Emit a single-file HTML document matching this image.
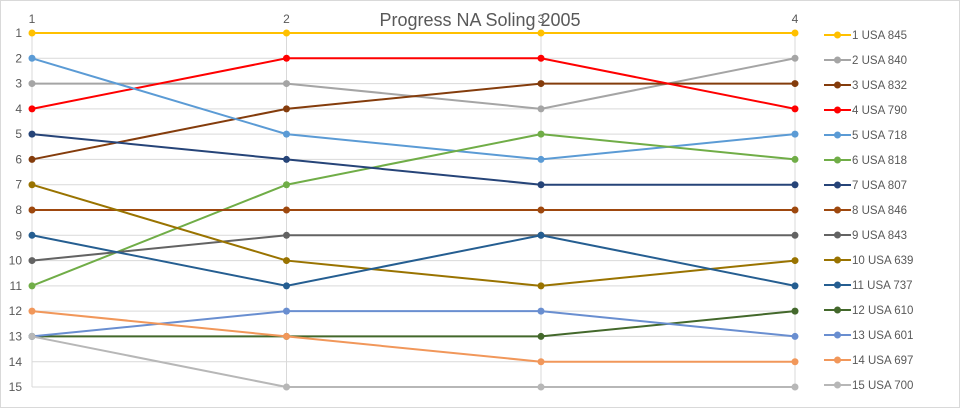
<!DOCTYPE html>
<html><head><meta charset="utf-8"><style>
html,body{margin:0;padding:0;background:#fff}
svg{display:block;font-family:"Liberation Sans",sans-serif}
</style></head><body>
<svg id="s" width="960" height="408" viewBox="0 0 960 408">
<rect x="0.5" y="0.5" width="959" height="407" fill="#fff" stroke="#d9d9d9"/>
<g id="grid" stroke="#d9d9d9" stroke-width="1"></g>
<g id="lines"></g>
<text x="480" y="26" text-anchor="middle" font-size="18" fill="#595959">Progress NA Soling 2005</text>
<g font-size="12" fill="#595959" text-anchor="middle">
<text x="32" y="23">1</text><text x="286.5" y="23">2</text><text x="541" y="23">3</text><text x="795" y="23">4</text>
</g>
<g font-size="12" fill="#595959" text-anchor="end">
<text x="22" y="37">1</text><text x="22" y="62.3">2</text><text x="22" y="87.6">3</text><text x="22" y="112.9">4</text><text x="22" y="138.2">5</text><text x="22" y="163.5">6</text><text x="22" y="188.7">7</text><text x="22" y="214">8</text><text x="22" y="239.3">9</text><text x="22" y="264.6">10</text><text x="22" y="289.9">11</text><text x="22" y="315.2">12</text><text x="22" y="340.5">13</text><text x="22" y="365.8">14</text><text x="22" y="391">15</text>
</g>
<g id="leg"></g>
<g font-size="11.5" fill="#595959">
<text x="852" y="39">1 USA 845</text><text x="852" y="64">2 USA 840</text><text x="852" y="89">3 USA 832</text><text x="852" y="114">4 USA 790</text><text x="852" y="139">5 USA 718</text><text x="852" y="164">6 USA 818</text><text x="852" y="189">7 USA 807</text><text x="852" y="214">8 USA 846</text><text x="852" y="239">9 USA 843</text><text x="852" y="264">10 USA 639</text><text x="852" y="289">11 USA 737</text><text x="852" y="314">12 USA 610</text><text x="852" y="339">13 USA 601</text><text x="852" y="364">14 USA 697</text><text x="852" y="389">15 USA 700</text>
</g>
</svg>
<script>
var NS="http://www.w3.org/2000/svg";
function el(p,t,a){var e=document.createElementNS(NS,t);for(var k in a)e.setAttribute(k,a[k]);p.appendChild(e);return e;}
var X=[32,286.5,541,795];function Y(r){return 33+(r-1)*25.286;}
var g=document.getElementById("grid");
for(var r=1;r<=15;r++)el(g,"line",{x1:32,x2:795,y1:Y(r),y2:Y(r)});
X.forEach(function(x){el(g,"line",{x1:x,x2:x,y1:33,y2:387});});
var D=[[[1,1,1,1],"#FFC000"],[[3,3,4,2],"#A5A5A5"],[[6,4,3,3],"#843C0C"],[[4,2,2,4],"#FF0000"],[[2,5,6,5],"#5B9BD5"],[[11,7,5,6],"#70AD47"],[[5,6,7,7],"#264478"],[[8,8,8,8],"#9E480E"],[[10,9,9,9],"#636363"],[[7,10,11,10],"#997300"],[[9,11,9,11],"#255E91"],[[13,13,13,12],"#43682B"],[[13,12,12,13],"#698ED0"],[[12,13,14,14],"#F1975A"],[[13,15,15,15],"#B7B7B7"]];
var L=document.getElementById("lines"),G=document.getElementById("leg");
D.forEach(function(d,i){var pts=d[0].map(function(r,j){return X[j]+","+Y(r);}).join(" ");
el(L,"polyline",{points:pts,fill:"none",stroke:d[1],"stroke-width":2});
d[0].forEach(function(r,j){el(L,"circle",{cx:X[j],cy:Y(r),r:3.5,fill:d[1]});});
var y=35+i*25;el(G,"line",{x1:824,x2:851,y1:y,y2:y,stroke:d[1],"stroke-width":2});el(G,"circle",{cx:837.5,cy:y,r:3.5,fill:d[1]});});
</script>
</body></html>
